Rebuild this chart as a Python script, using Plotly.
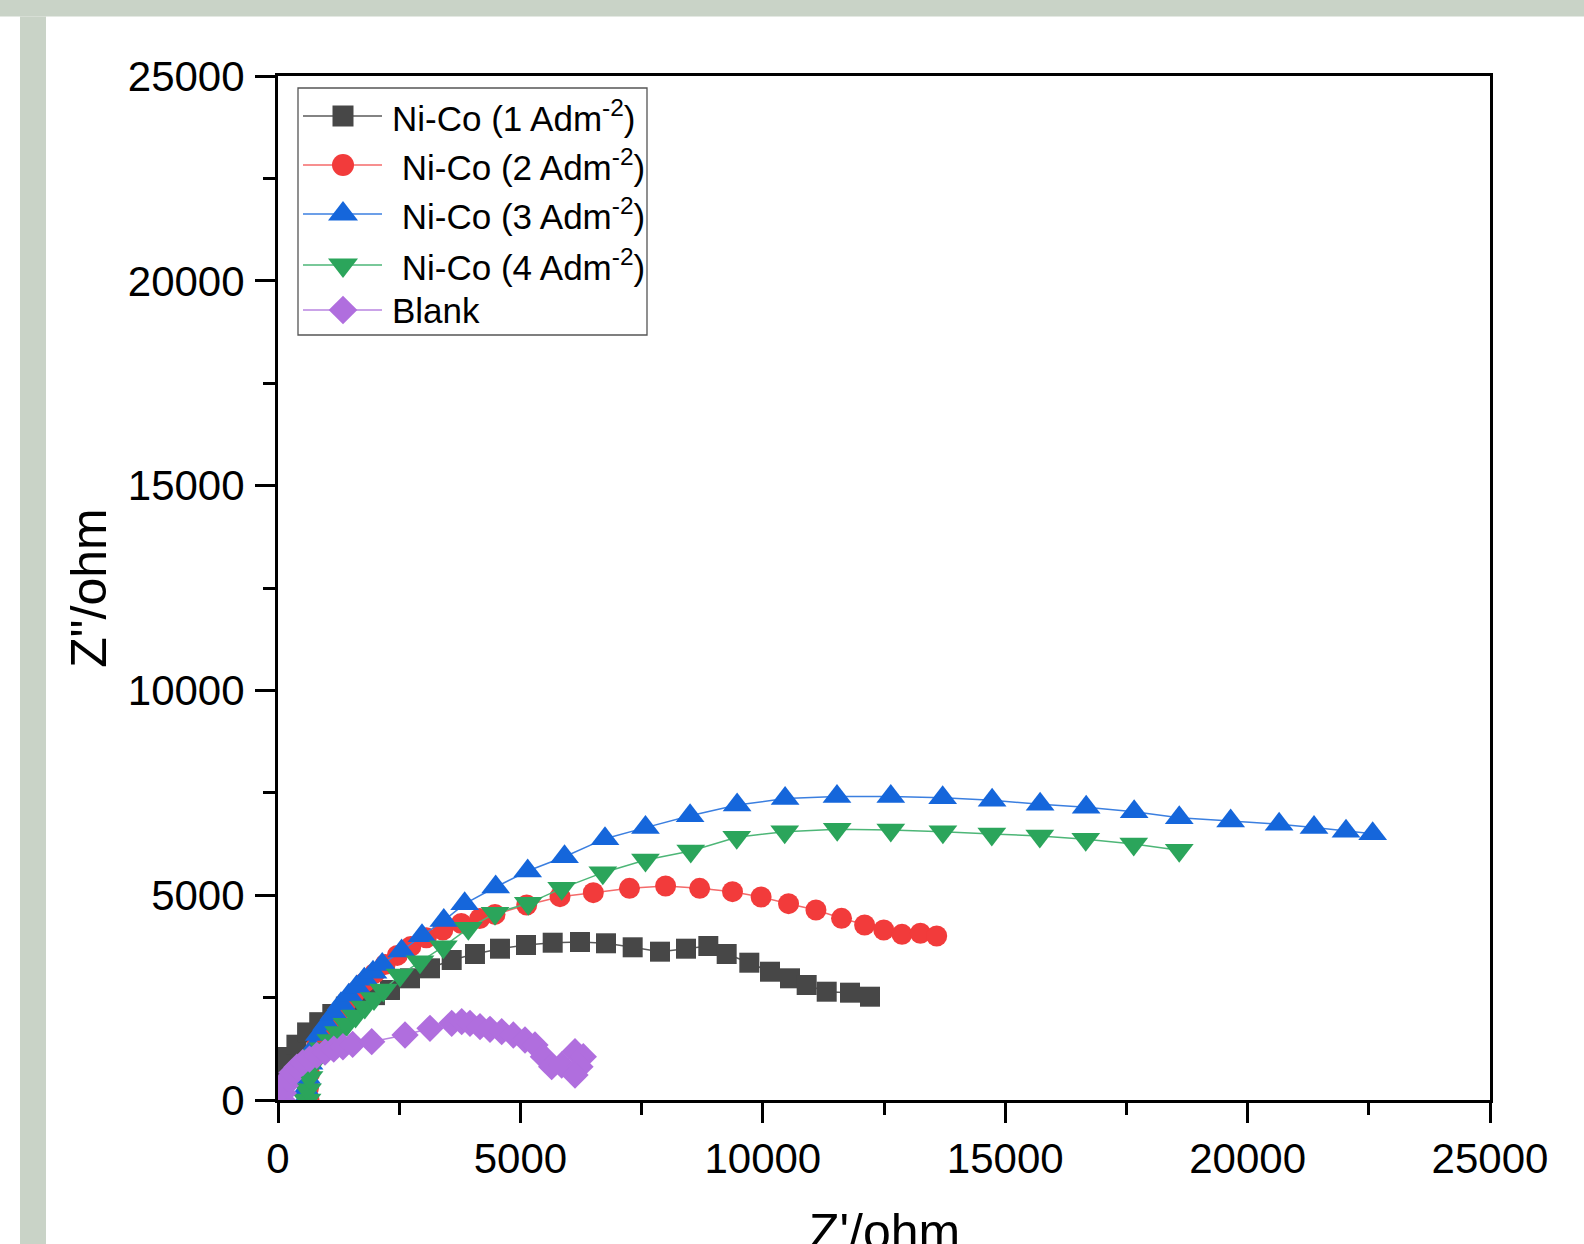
import plotly.graph_objects as go

# ---------------- data ----------------
x_black = [80, 200, 380, 600, 850, 1120, 1400, 1700, 2000, 2310, 2723, 3135, 3583, 4063, 4579, 5116, 5666, 6229,
           6766, 7316, 7880, 8416, 8876, 9255, 9722, 10149, 10561, 10905, 11318, 11799, 12211]
y_black = [750, 1050, 1350, 1650, 1900, 2100, 2280, 2430, 2560, 2686, 2971, 3215, 3418, 3564, 3694, 3784, 3840, 3857,
           3826, 3728, 3621, 3694, 3760, 3564, 3352, 3132, 2971, 2808, 2644, 2620, 2522]

x_red = [640, 630, 650, 700, 800, 940, 1090, 1250, 1420, 1600, 1790, 1990, 2210, 2460, 2740, 3060, 3400, 3780, 4160,
         4476, 5130, 5817, 6504, 7250, 7995, 8698, 9375, 9965, 10531, 11096, 11624, 12100, 12495, 12871, 13251, 13587]
y_red = [0, 300, 650, 1000, 1330, 1620, 1890, 2150, 2400, 2640, 2870, 3090, 3310, 3530, 3750, 3960, 4150, 4310, 4430,
         4530, 4761, 4964, 5062, 5168, 5225, 5168, 5086, 4956, 4793, 4639, 4436, 4272, 4150, 4045, 4070, 4004]

x_blue = [560, 570, 590, 640, 720, 850, 1000, 1150, 1300, 1460, 1620, 1780, 1960, 2150, 2550, 2970, 3420, 3850, 4490,
          5150, 5910, 6745, 7580, 8500, 9470, 10460, 11530, 12640, 13710, 14730, 15720, 16670, 17660, 18590, 19650,
          20650, 21370, 22030, 22580]
y_blue = [0, 250, 550, 900, 1250, 1600, 1850, 2100, 2350, 2560, 2760, 2950, 3120, 3310, 3640, 4010, 4380, 4790, 5200,
          5590, 5940, 6380, 6650, 6940, 7200, 7360, 7410, 7410, 7380, 7320, 7220, 7150, 7040, 6890, 6810,
          6730, 6650, 6560, 6500]

x_green = [600, 610, 640, 700, 800, 930, 1090, 1250, 1420, 1600, 1790, 1980, 2173, 2517, 2929, 3410, 3926, 4476, 5163,
           5852, 6700, 7580, 8514, 9462, 10452, 11535, 12640, 13715, 14724, 15714, 16661, 17651, 18590]
y_green = [0, 250, 550, 850, 1080, 1250, 1450, 1650, 1850, 2050, 2270, 2480, 2686, 3052, 3377, 3743, 4191, 4558, 4802,
           5168, 5550, 5860, 6080, 6413, 6551, 6609, 6592, 6551, 6494, 6445, 6365, 6250, 6100]

x_blank = [90, 110, 150, 210, 290, 390, 510, 650, 800, 970, 1150, 1340, 1540, 1933, 2620, 3135, 3583, 3789, 3960, 4167,
           4373, 4614, 4854, 5095, 5301, 5473, 5645, 5852, 6126, 6298, 6229, 6126]
y_blank = [0, 170, 350, 520, 670, 800, 910, 1000, 1090, 1170, 1240, 1300, 1360, 1424, 1587, 1750, 1872, 1912, 1872, 1790,
           1726, 1668, 1587, 1465, 1343, 1058, 813, 854, 1180, 1058, 813, 610]

series_names = ["Ni-Co (1 Adm<sup>-2</sup>)", "\u00a0Ni-Co (2 Adm<sup>-2</sup>)", "\u00a0Ni-Co (3 Adm<sup>-2</sup>)",
                "\u00a0Ni-Co (4 Adm<sup>-2</sup>)", "Blank"]
tick_vals = [0, 5000, 10000, 15000, 20000, 25000]
tick_text = ["0", "5000", "10000", "15000", "20000", "25000"]
x_title = "Z'/ohm"
y_title = 'Z"/ohm'

# ---------------- styling ----------------
FONT = "Liberation Sans, Arial, sans-serif"
W, H = 1584, 1244
L, R, T, B = 278, 94, 76, 144
PW, PH = W - L - R, H - T - B

def px_x(px):
    return (px - L) / PW

def px_y(py):
    return (H - B - py) / PH

styles = [
    dict(color="#474747", line="#5a5a5a", symbol="square", size=20),
    dict(color="#F23B3B", line="#F46A6A", symbol="circle", size=21),
    dict(color="#1566DB", line="#3B7FE0", symbol="triangle-up", size=25),
    dict(color="#2BA55B", line="#4DB677", symbol="triangle-down", size=25),
    dict(color="#B06EDE", line="#B985E0", symbol="diamond", size=21),
]
data = [(x_black, y_black), (x_red, y_red), (x_blue, y_blue), (x_green, y_green), (x_blank, y_blank)]

fig = go.Figure()
for (xs, ys), name, st in zip(data, series_names, styles):
    fig.add_trace(go.Scatter(
        x=xs, y=ys, name=name, mode="lines+markers", showlegend=False,
        line=dict(color=st["line"], width=1.5),
        marker=dict(symbol=st["symbol"], size=st["size"], color=st["color"], line=dict(width=0)),
    ))

# ---- custom legend (pixel-space overlay axes) ----
LEG_BOX = (298, 88, 647, 335)
LEG_LINE_X = (303, 382)
LEG_MARK_X = 343
LEG_TEXT_X = 390
LEG_ROWS = [116, 165, 214, 265, 310]
for name, st, yc in zip(series_names, styles, LEG_ROWS):
    fig.add_trace(go.Scatter(
        x=list(LEG_LINE_X), y=[yc, yc], xaxis="x2", yaxis="y2", mode="lines",
        showlegend=False, hoverinfo="skip", line=dict(color=st["line"], width=1.5),
    ))
    fig.add_trace(go.Scatter(
        x=[LEG_MARK_X], y=[yc], xaxis="x2", yaxis="y2", mode="markers",
        showlegend=False, hoverinfo="skip",
        marker=dict(symbol=st["symbol"], size=st["size"] + 1, color=st["color"], opacity=1, line=dict(width=0)),
    ))
annotations = [
    dict(x=px_x(LEG_TEXT_X), y=px_y(yc), xref="paper", yref="paper", text=name, showarrow=False,
         xanchor="left", yanchor="middle", font=dict(family=FONT, size=35, color="black"))
    for name, yc in zip(series_names, LEG_ROWS)
]
annotations.append(dict(x=0.5, y=px_y(1232), xref="paper", yref="paper", text=x_title, showarrow=False,
                        xanchor="center", yanchor="middle", font=dict(family=FONT, size=50, color="black")))

axis_common = dict(
    range=[0, 25000], tickvals=tick_vals, ticktext=tick_text,
    showline=True, linecolor="black", linewidth=3, mirror=True,
    ticks="outside", ticklen=20, tickwidth=3, tickcolor="black",
    minor=dict(ticks="outside", ticklen=12, tickwidth=3, tickcolor="black", dtick=2500),
    showgrid=False, zeroline=False,
    tickfont=dict(family=FONT, size=42, color="black"),
)

fig.update_xaxes(**axis_common, ticklabelstandoff=0)
fig.update_yaxes(**axis_common, ticklabelstandoff=2,
                 title=dict(text=y_title, font=dict(family=FONT, size=50, color="black"), standoff=6))

band = "#C9D3C7"
fig.update_layout(
    width=W, height=H,
    margin=dict(l=L, r=R, t=T, b=B, autoexpand=False),
    paper_bgcolor="white", plot_bgcolor="white",
    font=dict(family=FONT, color="black"),
    showlegend=False,
    hovermode=False,
    xaxis2=dict(overlaying="x", range=[L, W - R], visible=False, fixedrange=True),
    yaxis2=dict(overlaying="y", range=[H - B, T], visible=False, fixedrange=True),
    annotations=annotations,
    shapes=[
        dict(type="rect", xref="paper", yref="paper", x0=px_x(0), x1=px_x(W), y0=px_y(16.5), y1=px_y(0),
             fillcolor=band, line=dict(width=0), layer="below"),
        dict(type="rect", xref="paper", yref="paper", x0=px_x(20), x1=px_x(46), y0=px_y(H), y1=px_y(16.5),
             fillcolor=band, line=dict(width=0), layer="below"),
        dict(type="rect", xref="paper", yref="paper", x0=px_x(LEG_BOX[0]), x1=px_x(LEG_BOX[2]),
             y0=px_y(LEG_BOX[3]), y1=px_y(LEG_BOX[1]), fillcolor="rgba(0,0,0,0)",
             line=dict(color="#555555", width=1.3), layer="above"),
    ],
)

fig.write_html("out.html", config={"displayModeBar": False},
               post_script="document.body.style.margin='0';document.body.style.overflow='hidden';")
